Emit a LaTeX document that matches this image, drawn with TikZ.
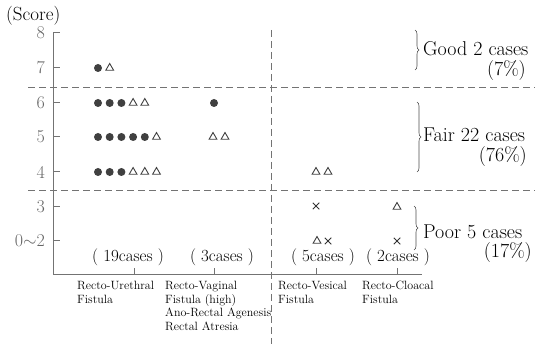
\documentclass[tikz,border=0pt]{standalone}
\usetikzlibrary{shapes.geometric,shapes.misc,decorations.pathreplacing}

\tikzset{
	dot/.style={circle,fill=black!75,inner sep=0pt,minimum size=8pt},
	tri/.style={regular polygon,regular polygon sides=3,draw=black!75,line width=0.9pt,inner sep=0pt,minimum size=9pt},
	crs/.style={cross out,draw=black!80,line width=1pt,inner sep=0pt,minimum size=5.5pt},
	guide/.style={black!55,line width=0.7pt,dash pattern=on 7pt off 4pt},
	axisline/.style={black!55,line width=1pt},
	score/.style={text=black!60,font=\fontsize{18}{18}\selectfont,anchor=east,inner sep=0pt},
	cases/.style={font=\fontsize{17}{17}\selectfont,inner sep=0pt},
	group/.style={font=\fontsize{12}{13.5}\selectfont,align=left,anchor=north west,inner sep=0pt},
	result/.style={font=\fontsize{20}{20}\selectfont,anchor=west,inner sep=0pt},
	share/.style={font=\fontsize{20}{20}\selectfont,anchor=east,inner sep=0pt},
	grade/.style={decorate,decoration={brace,amplitude=4pt},black!70,line width=0.6pt}
}

\begin{document}
\begin{tikzpicture}[x=1pt,y=-1pt]%[show background grid]

	\useasboundingbox (0,0) rectangle (535,344);

	\coordinate (ytop) at (53,33);
	\coordinate (origin) at (53,275);
	\coordinate (xend) at (422,275);

	\node[anchor=west,inner sep=0pt,font=\fontsize{19}{19}\selectfont] (unit) at (6,16) {(Score)};

	\draw[axisline] (ytop) -- (origin) -- (xend);

	\foreach \s/\y in {8/33,7/68,6/103,5/137,4/172,3/207,{0$\sim$2}/241}{
		\node[score] (score-\y) at (45,\y) {\s};
		\draw[axisline] (53,\y) -- (60,\y);
	}

	\coordinate (good-l) at (28,87);
	\coordinate (good-r) at (535,87);
	\coordinate (poor-l) at (28,190);
	\coordinate (poor-r) at (535,190);
	\coordinate (split-t) at (271,30);
	\coordinate (split-b) at (271,344);
	\draw[guide] (good-l) -- (good-r);
	\draw[guide] (poor-l) -- (poor-r);
	\draw[guide] (split-t) -- (split-b);

	\foreach \y/\list in {68/{dot,tri},103/{dot,dot,dot,tri,tri},137/{dot,dot,dot,dot,dot,tri},172/{dot,dot,dot,tri,tri,tri}}{
		\foreach \m [count=\i] in \list {
			\node[\m] (ru-\y-\i) at ({86.3+11.7*\i},\y) {};
		}
	}

	\node[dot] (rv-6) at (214,103) {};
	\node[tri] (rv-5a) at (213,137) {};
	\node[tri] (rv-5b) at (225,137) {};

	\node[tri] (ves-4a) at (316,172) {};
	\node[tri] (ves-4b) at (328,172) {};
	\node[crs] (ves-3) at (316,206) {};
	\node[tri] (ves-2a) at (317,241) {};
	\node[crs] (ves-2b) at (328,241) {};

	\node[tri] (clo-3) at (397,207) {};
	\node[crs] (clo-2) at (397,241) {};

	\foreach \x/\n/\c/\k in {134/ru/128/19,214/rv/222/3,316/ves/323/5,397/clo/398/2}{
		\draw[axisline] (\x,275) -- (\x,268);
		\node[cases] (n-\n) at (\c,257) {(\hspace{.3em}\k cases\hspace{.3em})};
	}

	\node[group] (g-ru) at (77,281) {Recto-Urethral\\Fistula};
	\node[group] (g-rv) at (165,281) {Recto-Vaginal\\Fistula (high)\\Ano-Rectal Agenesis\\Rectal Atresia};
	\node[group] (g-ves) at (278,281) {Recto-Vesical\\Fistula};
	\node[group] (g-clo) at (362,281) {Recto-Cloacal\\Fistula};

	\coordinate (good-t) at (415,30);
	\coordinate (good-b) at (415,70);
	\coordinate (fair-t) at (417,102);
	\coordinate (fair-b) at (417,172);
	\coordinate (poor-t) at (414,206);
	\coordinate (poor-b) at (414,250);
	\draw[grade] (good-t) -- (good-b);
	\draw[grade] (fair-t) -- (fair-b);
	\draw[grade] (poor-t) -- (poor-b);

	\node[result] (good) at (423,49) {Good 2 cases};
	\node[share] (good-p) at (526,71) {(7\%)};
	\node[result] (fair) at (423,135) {Fair 22 cases};
	\node[share] (fair-p) at (527,157) {(76\%)};
	\node[result] (poor) at (423,232) {Poor 5 cases};
	\node[share] (poor-p) at (532,253) {(17\%)};

\end{tikzpicture}
\end{document}
